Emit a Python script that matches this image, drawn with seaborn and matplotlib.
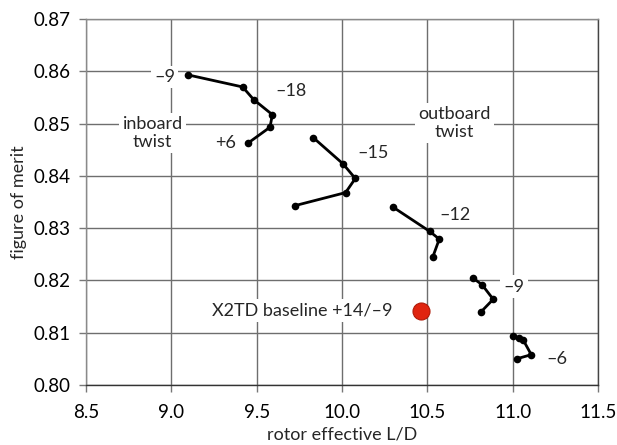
import numpy as np
import pandas as pd
import matplotlib
matplotlib.use("Agg")
import matplotlib.pyplot as plt
import seaborn as sns

# Rotor effective L/D vs figure of merit, one curve per outboard twist setting
twist_outboard = ["-9", "-15", "-12", "-9b", "-6"]
ld_m9 = [9.099, 9.418, 9.482, 9.592, 9.578, 9.451]
fm_m9 = [0.8593, 0.8570, 0.8546, 0.8517, 0.8493, 0.8463]
ld_m15 = [9.832, 10.006, 10.078, 10.021, 9.724]
fm_m15 = [0.8473, 0.8423, 0.8395, 0.8368, 0.8343]
ld_m12 = [10.300, 10.513, 10.570, 10.531]
fm_m12 = [0.8340, 0.8294, 0.8279, 0.8244]
ld_m9b = [10.765, 10.820, 10.886, 10.812]
fm_m9b = [0.8205, 0.8192, 0.8164, 0.8139]
ld_m6 = [11.003, 11.038, 11.062, 11.109, 11.023]
fm_m6 = [0.8094, 0.8090, 0.8086, 0.8058, 0.8050]

baseline_ld = [10.46]
baseline_fm = [0.8142]

x_ticks = [8.5, 9.0, 9.5, 10.0, 10.5, 11.0, 11.5]
y_ticks = [0.80, 0.81, 0.82, 0.83, 0.84, 0.85, 0.86, 0.87]

series = [ld_m9, ld_m15, ld_m12, ld_m9b, ld_m6]
series_fm = [fm_m9, fm_m15, fm_m12, fm_m9b, fm_m6]
frames = []
for name, xs, ys in zip(twist_outboard, series, series_fm):
    frames.append(pd.DataFrame({"ld": xs, "fm": ys, "twist": name}))
df = pd.concat(frames, ignore_index=True)

sns.set_theme(style="white")
plt.rcParams["font.family"] = ["Lato", "DejaVu Sans"]

fig = plt.figure(figsize=(6.17, 4.45), dpi=100)
ax = fig.add_axes([86 / 617, 60 / 445, 512 / 617, 366 / 445])

sns.lineplot(data=df, x="ld", y="fm", hue="twist", sort=False, estimator=None,
             palette=["black"] * 5, legend=False, marker="o", markersize=5.5,
             markeredgewidth=0, linewidth=2, ax=ax)
sns.scatterplot(x=baseline_ld, y=baseline_fm, s=150, color="#e0240f",
                edgecolor="#b01a08", linewidth=0.8, ax=ax, zorder=5)

ax.set_xlim(8.5, 11.5)
ax.set_ylim(0.80, 0.87)
ax.set_xticks(x_ticks)
ax.set_yticks(y_ticks)
ax.set_xticklabels([f"{v:.1f}" for v in x_ticks])
ax.set_yticklabels([f"{v:.2f}" for v in y_ticks])
ax.grid(True, color="#6e6e6e", linewidth=1.0)
ax.set_axisbelow(True)
for side in ["top", "left"]:
    ax.spines[side].set_color("#8a8a8a")
    ax.spines[side].set_linewidth(1.0)
ax.spines["right"].set_color("#444444")
ax.spines["right"].set_linewidth(1.0)
ax.spines["bottom"].set_color("#333333")
ax.spines["bottom"].set_linewidth(1.0)
ax.tick_params(axis="both", which="major", labelsize=13.5, length=5,
               width=1, color="#777777", direction="out",
               bottom=True, left=True, labelcolor="black")
ax.tick_params(axis="x", pad=9)
ax.tick_params(axis="y", pad=6)

ax.set_xlabel("rotor effective L/D", fontsize=13, labelpad=4)
ax.set_ylabel("figure of merit", fontsize=13, labelpad=5)

box = dict(facecolor="white", edgecolor="none", pad=2.5)
labels = [
    ("–9", 8.960, 0.8589),
    ("–18", 9.701, 0.8562),
    ("inboard\ntwist", 8.890, 0.8482),
    ("+6", 9.320, 0.8463),
    ("–15", 10.181, 0.8443),
    ("outboard\ntwist", 10.659, 0.8501),
    ("–12", 10.662, 0.8326),
    ("–9", 11.010, 0.8188),
    ("–6", 11.257, 0.8050),
]
for txt, x, y in labels:
    ax.text(x, y, txt, ha="center", va="center", fontsize=13,
            linespacing=1.1, bbox=box, zorder=4)
ax.text(10.298, 0.8143, "X2TD baseline +14/–9", ha="right", va="center",
        fontsize=13, bbox=box, zorder=4)

fig.savefig("out.png", dpi=100)
